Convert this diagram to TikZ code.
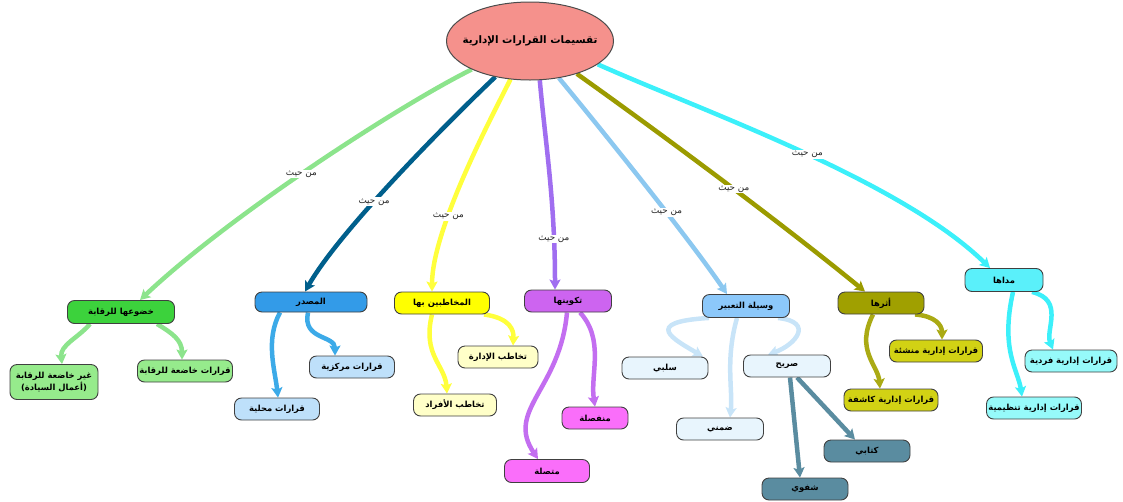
\documentclass[tikz,border=0pt]{standalone}
\usepackage{fontspec}
\TeXXeTstate=1
\newfontfamily\ar[Script=Arabic]{DejaVu Sans}
\usetikzlibrary{arrows.meta,shapes.geometric,backgrounds}
\newcommand\rtl[1]{\beginR#1\endR}
\definecolor{rootc}{RGB}{245,145,140}
\definecolor{gA}{RGB}{60,210,60}
\definecolor{gB}{RGB}{150,235,140}
\definecolor{gE}{RGB}{140,228,140}
\definecolor{bA}{RGB}{51,155,232}
\definecolor{bB}{RGB}{190,224,250}
\definecolor{bE}{RGB}{0,95,140}
\definecolor{bF}{RGB}{60,170,232}
\definecolor{yA}{RGB}{255,255,0}
\definecolor{yB}{RGB}{255,255,200}
\definecolor{yE}{RGB}{255,255,60}
\definecolor{pA}{RGB}{205,100,240}
\definecolor{pB}{RGB}{250,110,250}
\definecolor{pE}{RGB}{160,110,240}
\definecolor{pF}{RGB}{195,110,240}
\definecolor{lA}{RGB}{140,200,250}
\definecolor{lB}{RGB}{232,245,253}
\definecolor{lE}{RGB}{140,200,240}
\definecolor{lF}{RGB}{200,228,248}
\definecolor{sA}{RGB}{90,140,160}
\definecolor{oA}{RGB}{160,160,0}
\definecolor{oB}{RGB}{210,210,20}
\definecolor{oE}{RGB}{155,155,0}
\definecolor{oF}{RGB}{170,170,20}
\definecolor{cA}{RGB}{90,240,250}
\definecolor{cB}{RGB}{150,250,250}
\definecolor{cE}{RGB}{60,240,250}
\begin{document}
\begin{tikzpicture}[x=1pt,y=-1pt,
  box/.style={draw=black!75, line width=0.9pt, rounded corners=7pt, minimum height=22pt, inner xsep=1pt, inner ysep=2pt,
    font=\ar\bfseries\fontsize{8.4}{10.2}\selectfont},
  lab/.style={fill=white, inner sep=1pt, font=\ar\fontsize{8.8}{10}\selectfont, text=black!85},
  conn/.style={line width=4.5pt, -{Stealth[length=10pt,width=11pt,inset=2pt]}},
]
\useasboundingbox (0,0) rectangle (1123,501);
% root
\node[ellipse, draw=black!70, line width=1pt, fill=rootc, minimum width=167pt, minimum height=78pt,
  inner xsep=-14pt, inner ysep=0pt,
  font=\ar\bfseries\fontsize{10.3}{12}\selectfont] (root) at (530,41) {\rtl{تقسيمات القرارات الإدارية}};
% level 1
\node[box, fill=gA, minimum width=107pt, minimum height=23pt] (khudu) at (121,312) {\rtl{خضوعها للرقابة}};
\node[box, fill=bA, minimum width=112pt, minimum height=20pt] (masdar) at (311,302) {\rtl{المصدر}};
\node[box, fill=yA, minimum width=95pt] (mukh) at (442,303) {\rtl{المخاطبين بها}};
\node[box, fill=pA, minimum width=87pt] (takwin) at (568,301) {\rtl{تكوينها}};
\node[box, fill=lA, minimum width=87pt, minimum height=23pt] (wasila) at (746,306) {\rtl{وسيلة التعبير}};
\node[box, fill=oA, minimum width=86pt] (athar) at (881,303) {\rtl{أثرها}};
\node[box, fill=cA, minimum width=78pt, minimum height=23pt] (mada) at (1004,280) {\rtl{مداها}};
% level 2
\node[box, fill=gB, minimum width=88pt, minimum height=35pt, align=center] (ghayr) at (54,382) {\rtl{غير خاضعة للرقابة}\\\rtl{(أعمال السيادة)}};
\node[box, fill=gB, minimum width=95pt] (khadia) at (185,371) {\rtl{قرارات خاضعة للرقابة}};
\node[box, fill=bB, minimum width=85pt] (markaz) at (352,367) {\rtl{قرارات مركزية}};
\node[box, fill=bB, minimum width=85pt] (mahal) at (277,409) {\rtl{قرارات محلية}};
\node[box, fill=yB, minimum width=80pt] (idara) at (498,357) {\rtl{تخاطب الإدارة}};
\node[box, fill=yB, minimum width=83pt] (afrad) at (455,405) {\rtl{تخاطب الأفراد}};
\node[box, fill=pB, minimum width=66pt] (munfas) at (595,418) {\rtl{منفصلة}};
\node[box, fill=pB, minimum width=85pt, minimum height=23pt] (muttas) at (547,471) {\rtl{متصلة}};
\node[box, fill=lB, minimum width=86pt] (salbi) at (665,368) {\rtl{سلبي}};
\node[box, fill=lB, minimum width=87pt] (sarih) at (787,366) {\rtl{صريح}};
\node[box, fill=lB, minimum width=87pt] (dimni) at (720,429) {\rtl{ضمني}};
\node[box, fill=sA, minimum width=86pt] (kitabi) at (867,451) {\rtl{كتابي}};
\node[box, fill=sA, minimum width=86pt] (shafawi) at (805,489) {\rtl{شفوي}};
\node[box, fill=oB, minimum width=93pt] (munshia) at (936,351) {\rtl{قرارات إدارية منشئة}};
\node[box, fill=oB, minimum width=94pt] (kashifa) at (891,400) {\rtl{قرارات إدارية كاشفة}};
\node[box, fill=cB, minimum width=92pt] (fardiya) at (1071,361) {\rtl{قرارات إدارية فردية}};
\node[box, fill=cB, minimum width=95pt] (tanzim) at (1034,408) {\rtl{قرارات إدارية تنظيمية}};
\begin{scope}[on background layer]
% root connectors
\draw[conn, gE] (root.206) .. controls (400,105) and (230,215) .. (khudu.north west -| 140,0)
  node[lab, pos=0.53] {\rtl{من حيث}};
\draw[conn, bE] (root.226) .. controls (450,120) and (340,230) .. (masdar.north -| 305,0)
  node[lab, pos=0.6] {\rtl{من حيث}};
\draw[conn, yE] (root.243) .. controls (490,120) and (432,230) .. (mukh.north -| 432,0)
  node[lab, pos=0.66] {\rtl{من حيث}};
\draw[conn, pE] (root.284) .. controls (545,140) and (555,200) .. (takwin.north -| 555,0)
  node[lab, pos=0.8] {\rtl{من حيث}};
\draw[conn, lE] (root.308) .. controls (610,140) and (690,240) .. (wasila.north -| 727,0)
  node[lab, pos=0.6] {\rtl{من حيث}};
\draw[conn, oE] (root.325) .. controls (670,140) and (790,230) .. (athar.north -| 865,0)
  node[lab, pos=0.52] {\rtl{من حيث}};
\draw[conn, cE] (root.341) .. controls (700,110) and (900,180) .. (mada.north -| 990,0)
  node[lab, pos=0.52] {\rtl{من حيث}};
% child connectors
\draw[conn, gE] ([xshift=-31pt]khudu.south) .. controls (78,338) and (60,345) .. ([xshift=8pt]ghayr.north);
\draw[conn, gE] ([xshift=36pt]khudu.south) .. controls (172,333) and (182,340) .. ([xshift=-3pt]khadia.north);
\draw[conn, bF] ([xshift=-31pt]masdar.south) .. controls (265,340) and (275,370) .. ([xshift=1pt]mahal.north);
\draw[conn, bF] ([xshift=-3pt]masdar.south) .. controls (302,340) and (335,335) .. ([xshift=-17pt]markaz.north);
\draw[conn, yE] ([xshift=42pt]mukh.south) .. controls (510,318) and (514,330) .. ([xshift=15pt]idara.north);
\draw[conn, yE] ([xshift=-10pt]mukh.south) .. controls (422,355) and (445,365) .. ([xshift=-8pt]afrad.north);
\draw[conn, pF] ([xshift=12pt]takwin.south) .. controls (605,340) and (590,375) .. (munfas.north);
\draw[conn, pF] ([xshift=-1pt]takwin.south) .. controls (560,390) and (505,410) .. ([xshift=-9pt]muttas.north);
\draw[conn, lF] ([xshift=-37pt]wasila.south) .. controls (640,322) and (675,340) .. ([xshift=38pt]salbi.north);
\draw[conn, lF] ([xshift=32pt]wasila.south) .. controls (815,322) and (795,345) .. ([xshift=-19pt]sarih.north);
\draw[conn, lF] ([xshift=-9pt]wasila.south) .. controls (725,360) and (733,390) .. ([xshift=10pt]dimni.north);
\draw[conn, sA] ([xshift=3pt]sarih.south) -- ([xshift=-5pt]shafawi.north);
\draw[conn, sA] ([xshift=10pt]sarih.south) -- ([xshift=-12pt]kitabi.north);
\draw[conn, oF] ([xshift=34pt]athar.south) .. controls (935,316) and (942,325) .. ([xshift=6pt]munshia.north);
\draw[conn, oF] ([xshift=-8pt]athar.south) .. controls (855,350) and (878,365) .. ([xshift=-11pt]kashifa.north);
\draw[conn, cE] ([xshift=28pt]mada.south) .. controls (1065,300) and (1045,330) .. ([xshift=-18pt]fardiya.north);
\draw[conn, cE] ([xshift=9pt]mada.south) .. controls (1000,350) and (1018,370) .. ([xshift=-12pt]tanzim.north);
\end{scope}
\end{tikzpicture}
\end{document}
